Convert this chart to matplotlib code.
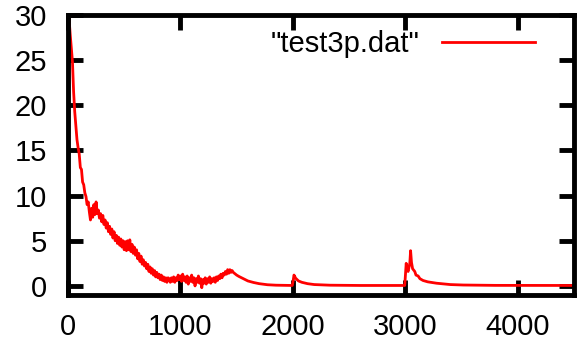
import matplotlib
matplotlib.use("Agg")
import matplotlib.pyplot as plt
import numpy as np

early_x = np.arange(0, 1510, 10)
early_y = [
    31.0, 29.5, 27.8, 26.3, 24.8, 21.5, 19.3, 17.8, 16.2, 15.3,
    14.6, 13.1, 12.9, 11.5, 11.2, 10.3, 9.9, 9.0, 9.3, 8.2,
    7.3, 8.6, 7.6, 9.0, 7.9, 9.3, 8.0, 8.4, 7.5, 8.0,
    7.1, 7.8, 6.8, 7.3, 6.4, 7.0, 6.0, 6.6, 5.7, 6.3,
    5.3, 6.0, 5.0, 5.6, 4.7, 5.4, 4.5, 5.2, 4.3, 5.0,
    4.0, 4.9, 3.9, 5.0, 4.0, 5.1, 3.8, 4.6, 3.6, 4.3,
    3.4, 4.0, 3.0, 3.6, 2.7, 3.3, 2.4, 2.9, 2.2, 2.6,
    1.9, 2.4, 1.6, 2.1, 1.4, 1.9, 1.2, 1.7, 1.0, 1.5,
    0.9, 1.3, 0.7, 1.2, 0.6, 1.0, 0.5, 0.9, 0.4, 0.9,
    0.8, 0.4, 0.9, 0.5, 1.0, 0.4, 0.9, 0.6, 1.2, 0.7,
    1.1, 0.5, 1.3, 0.6, 1.0, 0.4, 1.1, 0.2, 0.9, 0.5,
    1.2, 0.4, 0.9, 0.0, 0.8, 0.4, 1.1, 0.3, 0.8, -0.2,
    0.7, 0.3, 0.9, 0.2, 0.8, 0.4, 1.0, 0.3, 0.8, 0.5,
    0.9, 0.4, 1.0, 0.6, 1.1, 0.8, 1.3, 0.9, 1.4, 1.2,
    1.6, 1.3, 1.8, 1.4, 1.8, 1.5, 1.7, 1.5, 1.4, 1.3,
    1.2,
]

# smoother tail with the two spikes near 2000 and 3000
late_x = [1520, 1560, 1600, 1650, 1700, 1774, 1850, 1995, 2003, 2010,
          2025, 2050, 2080, 2130, 2190, 2330, 2600, 2995, 3003, 3008,
          3015, 3025, 3040, 3047, 3055, 3065, 3084, 3095, 3114, 3130,
          3158, 3200, 3277, 3400, 3515, 3800, 4500]
late_y = [1.05, 0.8, 0.55, 0.38, 0.25, 0.13, 0.08, 0.05, 0.6, 1.2,
          0.85, 0.55, 0.4, 0.25, 0.15, 0.08, 0.05, 0.05, 1.5, 2.5,
          1.9, 1.6, 2.5, 3.9, 2.6, 1.9, 1.6, 1.2, 1.1, 0.8,
          0.6, 0.45, 0.3, 0.15, 0.1, 0.06, 0.05]

x = np.concatenate([early_x, late_x])
y = np.concatenate([early_y, late_y])

plt.rcParams['font.family'] = ['Liberation Sans', 'DejaVu Sans']
plt.rcParams['font.size'] = 21

fig = plt.figure(figsize=(5.87, 3.47), dpi=100)
ax = fig.add_axes([0.1158, 0.150, 0.862, 0.807])

ax.plot(x, y, color='red', linewidth=2.0, label='"test3p.dat"')

ax.set_xlim(0, 4500)
ax.set_ylim(-1, 30)
ax.set_xticks([0, 1000, 2000, 3000, 4000])
ax.set_yticks([0, 5, 10, 15, 20, 25, 30])

for s in ax.spines.values():
    s.set_linewidth(3.5)
ax.tick_params(direction='in', length=10.5, width=3.5, top=True, right=True)
ax.tick_params(axis='y', pad=15)
ax.tick_params(axis='x', pad=13)

ax.legend(loc='upper right', bbox_to_anchor=(0.923, 0.945), frameon=False,
          markerfirst=False, handlelength=3.2, handletextpad=0.76,
          borderpad=0, borderaxespad=0)

fig.savefig('out.png', dpi=100)
